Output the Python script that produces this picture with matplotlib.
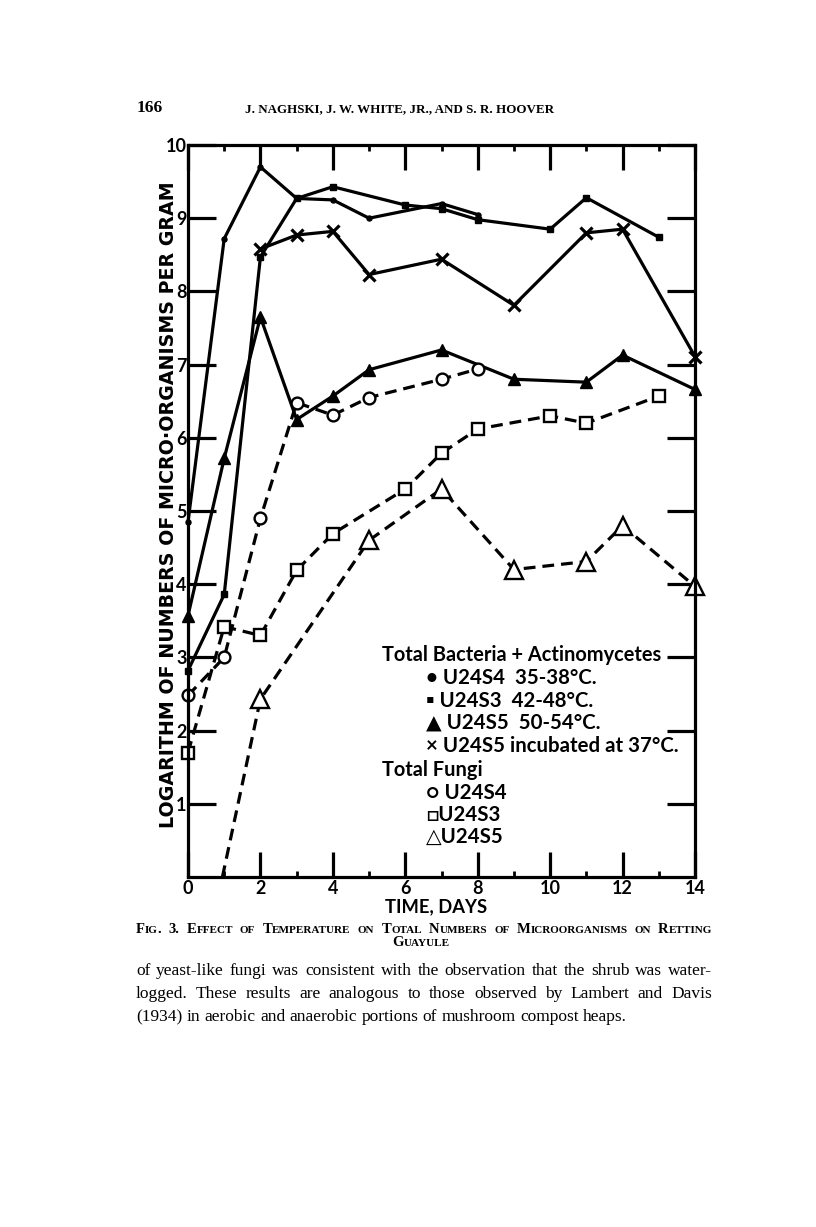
import matplotlib
matplotlib.use("Agg")
import matplotlib.pyplot as plt

plt.rcParams['lines.scale_dashes'] = False

# ---------------- data ----------------
days_b_s4 = [0, 1, 2, 3, 4, 5, 7, 8]
bact_s4 = [4.85, 8.72, 9.70, 9.27, 9.25, 9.00, 9.20, 9.05]

days_b_s3 = [0, 1, 2, 3, 4, 6, 7, 8, 10, 11, 13]
bact_s3 = [2.82, 3.86, 8.47, 9.27, 9.43, 9.18, 9.13, 8.98, 8.85, 9.28, 8.74]

days_b_s5 = [0, 1, 2, 3, 4, 5, 7, 9, 11, 12, 14]
bact_s5 = [3.57, 5.72, 7.65, 6.25, 6.57, 6.93, 7.20, 6.80, 6.76, 7.13, 6.66]

days_b_s5_37 = [2, 3, 4, 5, 7, 9, 11, 12, 14]
bact_s5_37 = [8.58, 8.77, 8.82, 8.23, 8.44, 7.81, 8.80, 8.85, 7.11]

days_f_s4 = [0, 1, 2, 3, 4, 5, 7, 8]
fungi_s4 = [2.48, 3.00, 4.90, 6.48, 6.31, 6.55, 6.80, 6.94]

days_f_s3 = [0, 1, 2, 3, 4, 6, 7, 8, 10, 11, 13]
fungi_s3 = [1.70, 3.42, 3.30, 4.19, 4.69, 5.30, 5.79, 6.12, 6.30, 6.20, 6.57]

days_f_s5 = [0.95, 2, 5, 7, 9, 11, 12, 14]
fungi_s5 = [0.00, 2.43, 4.60, 5.30, 4.20, 4.31, 4.80, 3.97]

x_ticks = [0, 2, 4, 6, 8, 10, 12, 14]
x_minor = [1, 3, 5, 7, 9, 11, 13]
y_ticks = [1, 2, 3, 4, 5, 6, 7, 8, 9, 10]
y_labels = ['1', '2', '3', '4', '5', '6', '7', '8', '9', '10']

legend_lines = [
    ("Total Bacteria + Actinomycetes", 0),
    ("\u2022 U24S4  35-38\u00b0C.", 1),
    ("\u25aa U24S3  42-48\u00b0C.", 1),
    ("\u25b2 U24S5  50-54\u00b0C.", 1),
    ("\u00d7 U24S5 incubated at 37\u00b0C.", 1),
    ("Total Fungi", 0),
    ("\u25cb U24S4", 1),
    ("\u25a1U24S3", 1),
    ("\u25b3U24S5", 1),
]

header_page = "166"
header_authors = "J. NAGHSKI, J. W. WHITE, JR., AND S. R. HOOVER"
caption_1 = "Fig. 3. Effect of Temperature on Total Numbers of Microorganisms on Retting"
caption_2 = "Guayule"
body_lines = [
    "of yeast-like fungi was consistent with the observation that the shrub was water-",
    "logged.  These results are analogous to those observed by Lambert and Davis",
    "(1934) in aerobic and anaerobic portions of mushroom compost heaps.",
]

# ---------------- figure ----------------
W, H = 816, 1227
DPI = 100
fig = plt.figure(figsize=(W / DPI, H / DPI), dpi=DPI)
fig.patch.set_facecolor('white')
renderer = fig.canvas.get_renderer()

SANS = ['Lato', 'DejaVu Sans']
WIDE = ['DejaVu Sans']
SERIF = ['Liberation Serif', 'DejaVu Serif']


def fx(px):
    return px / W


def fy(py):
    return 1 - py / H


def measure(s, size, **kw):
    t = fig.text(0, 0, s, fontsize=size, **kw)
    w = t.get_window_extent(renderer).width
    t.remove()
    return w


def fit(s, target, **kw):
    return 10.0 * target / measure(s, 10.0, **kw)


# ---------------- axes ----------------
ax = fig.add_axes([fx(188), fy(877), fx(695) - fx(188), fy(145) - fy(877)])
ax.set_xlim(0, 14)
ax.set_ylim(0, 10)

solid = dict(color='black', lw=2.3, clip_on=False)
ax.plot(days_b_s4, bact_s4, marker='o', ms=3.6, **solid)
ax.plot(days_b_s3, bact_s3, marker='s', ms=5, **solid)
ax.plot(days_b_s5, bact_s5, marker='^', ms=8, **solid)
ax.plot(days_b_s5_37, bact_s5_37, marker='x', ms=8, mew=2.3, **solid)

dash = dict(color='black', lw=2.3, dashes=(8.5, 5), clip_on=False,
            mfc='white', mec='black', mew=1.7)
ax.plot(days_f_s4, fungi_s4, marker='o', ms=8.5, **dash)
ax.plot(days_f_s3, fungi_s3, marker='s', ms=8.5, **dash)
ax.plot(days_f_s5, fungi_s5, marker='^', ms=13,
        markevery=list(range(1, len(days_f_s5))), **dash)

ax.set_xticks(x_ticks)
ax.set_xticks(x_minor, minor=True)
ax.set_yticks(y_ticks)
ax.set_yticklabels(y_labels)
ax.tick_params(axis='x', which='major', direction='in', length=18, width=2.3,
               top=True, bottom=True, pad=2, labelsize=13)
ax.tick_params(axis='x', which='minor', direction='in', length=4, width=2,
               top=True, bottom=True)
ax.tick_params(axis='y', which='major', direction='in', length=20, width=2.3,
               left=True, right=True, pad=1, labelsize=13)
for lab in ax.get_xticklabels() + ax.get_yticklabels():
    lab.set_fontweight('bold')
    lab.set_family(SANS)
for s in ax.spines.values():
    s.set_linewidth(2.3)

# axis labels
ylab = "LOGARITHM OF NUMBERS OF MICRO\u00b7ORGANISMS PER GRAM"
ysz = fit(ylab, 648, family=WIDE, weight='bold')
fig.text(fx(169), fy(505), ylab, rotation=90, ha='center', va='center',
         fontsize=ysz, family=WIDE, weight='bold')
fig.text(fx(436), fy(907), "TIME, DAYS", ha='center', va='center',
         fontsize=fit("TIME, DAYS", 102, family=SANS, weight='bold'),
         family=SANS, weight='bold')

# legend text
lsz_head = fit(legend_lines[0][0], 280, family=SANS, weight='bold')
lsz_item = fit(legend_lines[4][0], 252, family=SANS, weight='bold')
leg_y = [655, 678, 701, 723, 746, 770, 793, 815, 837]
for (txt, indent), yy in zip(legend_lines, leg_y):
    fig.text(fx(382 + 44 * indent), fy(yy), txt, ha='left', va='center',
             fontsize=lsz_item if indent else lsz_head, family=SANS, weight='bold')


# ---------------- page text ----------------
def sc_runs(word, big, small):
    runs = []
    for ch in word:
        seg = (ch.upper(), small) if ch.islower() else (ch, big)
        if runs and runs[-1][1] == seg[1]:
            runs[-1] = (runs[-1][0] + seg[0], seg[1])
        else:
            runs.append(seg)
    return runs


def words_width(words, **kw):
    return [sum(measure(t, s, **kw) for t, s in w) for w in words]


def draw_words(words, x0, y, x1=None, space=None, **kw):
    widths = words_width(words, **kw)
    if x1 is not None and len(words) > 1:
        gap = (x1 - x0 - sum(widths)) / (len(words) - 1)
    else:
        gap = space
    x = x0
    for w, wd in zip(words, widths):
        xx = x
        for t, s in w:
            tt = fig.text(fx(xx), fy(y), t, fontsize=s, va='baseline', ha='left', **kw)
            xx += tt.get_window_extent(renderer).width
        x += wd + gap


# header
fig.text(fx(137), fy(112), header_page, fontsize=12.5, family=SERIF,
         weight='bold', va='baseline', ha='left')
asz = fit(header_authors, 307, family=SERIF, weight='bold')
fig.text(fx(245), fy(112), header_authors, fontsize=asz, family=SERIF,
         weight='bold', va='baseline', ha='left')

# caption (small caps, justified)
cap_kw = dict(family=SERIF, weight='bold')
big = 10.5
while True:
    small = big * 0.76
    cap_words = [sc_runs(w, big, small) for w in caption_1.split()]
    tot = sum(words_width(cap_words, **cap_kw))
    if tot + 4 * (len(cap_words) - 1) <= 712 - 136 or big < 7:
        break
    big -= 0.25
draw_words(cap_words, 136, 933, x1=712, **cap_kw)
g_runs = sc_runs(caption_2, big, small)
gw = sum(measure(t, s, **cap_kw) for t, s in g_runs)
draw_words([g_runs], 421 - gw / 2, 946, space=0, **cap_kw)

# body text
body_kw = dict(family=SERIF)
bsz = 12.5
while True:
    words = [[(w, bsz)] for w in body_lines[0].split()]
    tot = sum(words_width(words, **body_kw))
    if tot + 3.5 * (len(words) - 1) <= 712 - 136 or bsz < 8:
        break
    bsz -= 0.25
sp = measure("a a", bsz, **body_kw) - measure("aa", bsz, **body_kw)
body_y = [975, 998, 1021]
for i, (line, yy) in enumerate(zip(body_lines, body_y)):
    words = [[(w, bsz)] for w in line.split()]
    if i < 2:
        draw_words(words, 136, yy, x1=712, **body_kw)
    else:
        draw_words(words, 136, yy, space=max(sp, 4), **body_kw)

fig.savefig("out.png", dpi=DPI, facecolor='white')
